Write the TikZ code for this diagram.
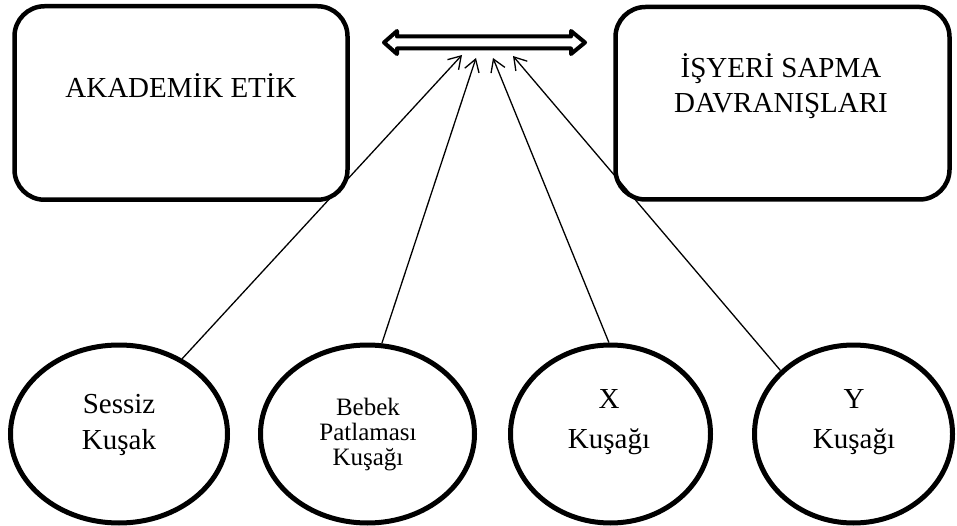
\documentclass[tikz,border=0pt]{standalone}
\usepackage{fontspec}
\setmainfont{Liberation Serif}
\usetikzlibrary{arrows.meta,shapes.geometric}
\tikzset{
  box/.style={draw, line width=4.5pt, rounded corners=30pt, inner sep=0pt},
  oval/.style={draw, ellipse, line width=5pt, inner sep=0pt},
  lbl/.style={anchor=base, inner sep=0pt, font=\fontsize{29}{29}\selectfont},
  slbl/.style={anchor=base, inner sep=0pt, font=\fontsize{25}{25}\selectfont},
  con/.style={line width=1.3pt, -{Straight Barb[length=12pt,width=15pt,line width=1.3pt]}}
}
\begin{document}
\begin{tikzpicture}[x=1pt,y=-1pt]
\useasboundingbox (0,0) rectangle (957,526);
% boxes
\node[box, minimum width=333pt, minimum height=193.5pt] (ak) at (181,103) {};
\node[box, minimum width=334pt, minimum height=192.5pt] (is) at (782.5,103.25) {};
\node[lbl] (akt) at (181,98) {AKADEMİK ETİK};
\node[lbl] (ist1) at (781,78) {İŞYERİ SAPMA};
\node[lbl] (ist2) at (781,113) {DAVRANIŞLARI};
% double arrow
\draw[line width=4pt, line join=round, fill=white]
  (384,42.5) -- (397,31) -- (397,36.5) -- (571,36.5) -- (571,31) -- (585,42.5)
  -- (571,54) -- (571,48.5) -- (397,48.5) -- (397,54) -- cycle;
\coordinate (p1) at (462,55);
\coordinate (p2) at (476,58);
\coordinate (p3) at (493,58);
\coordinate (p4) at (513,56);
% ellipses
\node[oval, minimum width=217pt, minimum height=178pt] (ses) at (119,434) {};
\node[oval, minimum width=214pt, minimum height=178pt] (beb) at (367.5,434) {};
\node[oval, minimum width=200pt, minimum height=178pt] (xk) at (610.5,434) {};
\node[oval, minimum width=198pt, minimum height=178pt] (yk) at (853.5,434) {};
% texts
\node[lbl] (s1) at (119,413) {Sessiz};
\node[lbl] (s2) at (119,449) {Kuşak};
\node[slbl] (b1) at (368,415) {Bebek};
\node[slbl] (b2) at (368,440) {Patlaması};
\node[slbl] (b3) at (368,465) {Kuşağı};
\node[lbl] (x1) at (609,408) {X};
\node[lbl] (x2) at (609,448) {Kuşağı};
\node[lbl] (y1) at (854,408) {Y};
\node[lbl] (y2) at (854,448) {Kuşağı};
% connectors
\draw[con] (ses.50) -- (p1);
\draw[con] (beb.81.6) -- (p2);
\draw[con] (xk.91) -- (p3);
\draw[con] (yk.139.6) -- (p4);
\end{tikzpicture}
\end{document}
